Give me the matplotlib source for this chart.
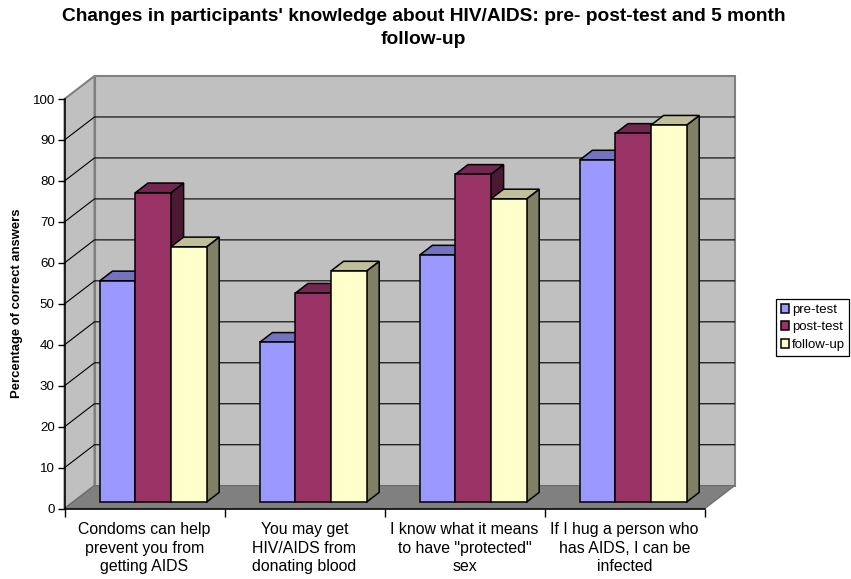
"""Excel-style 3D clustered columns: HIV/AIDS knowledge pre, post and follow-up."""

import matplotlib
matplotlib.use("Agg")
import matplotlib.pyplot as plt
import numpy as np
from matplotlib.patches import Polygon

plt.rcParams["font.family"] = ["Liberation Sans", "DejaVu Sans"]

TITLE = ("Changes in participants' knowledge about HIV/AIDS: pre- post-test and 5 month\n"
         "follow-up")
YLABEL = "Percentage of correct answers"

CATEGORIES = [
    "Condoms can help\nprevent you from\ngetting AIDS",
    "You may get\nHIV/AIDS from\ndonating blood",
    "I know what it means\nto have \"protected\"\nsex",
    "If I hug a person who\nhas AIDS, I can be\ninfected",
]
PRE_TEST = [54, 39, 60.3, 83.5]
POST_TEST = [75.5, 51, 80, 90]
FOLLOW_UP = [62.3, 56.4, 74, 92]
SERIES_NAMES = ["pre-test", "post-test", "follow-up"]
YTICKS = list(range(0, 101, 10))

# colour per series: front, top, side
COLOURS = [
    ("#9999FF", "#7373BF", "#4C4C80"),
    ("#993366", "#732650", "#4C1933"),
    ("#FFFFCC", "#BFBF99", "#808066"),
]

# depth of the floor in data units (30 px across, 23 px up)
DX = 30 / 160
DY = 23 / 4.097
BAR_W = 35.6 / 160
FRONT = 0.29   # fraction of the depth where the bars start
BACK = 0.71    # ... and where they end
GREY = "#808080"

W, H = 851, 579
fig = plt.figure(figsize=(W / 100, H / 100), dpi=100)
ax = fig.add_axes([64.5 / W, 1 - 508.7 / H, 640 / W, 409.7 / H])
ax.set_xlim(0, 4)
ax.set_ylim(0, 100)
ax.set_facecolor("none")

# walls and floor
ax.add_patch(Polygon([(DX, DY), (4 + DX, DY), (4 + DX, 100 + DY), (DX, 100 + DY)],
                     fc="#C0C0C0", ec=GREY, lw=1.5, clip_on=False, zorder=1))
ax.add_patch(Polygon([(0, 0), (DX, DY), (DX, 100 + DY), (0, 100)],
                     fc="#C0C0C0", ec=GREY, lw=1.5, clip_on=False, zorder=1))
for v in YTICKS[1:-1]:
    ax.plot([0, DX, 4 + DX], [v, v + DY, v + DY], color="black", lw=0.8,
            clip_on=False, zorder=2)
ax.add_patch(Polygon([(0, 0), (4, 0), (4 + DX, DY), (DX, DY)],
                     fc=GREY, ec="#707070", lw=1, clip_on=False, zorder=3))

# bars, left to right so each one covers the side of the one before
z = 4
legend_handles = []
for c in range(len(CATEGORIES)):
    for s, values in enumerate([PRE_TEST, POST_TEST, FOLLOW_UP]):
        v = values[c]
        front, top, side = COLOURS[s]
        group_w = BAR_W * 3
        x0 = c + (1 - group_w) / 2 + s * BAR_W + FRONT * DX
        y0 = FRONT * DY
        depth_x = (BACK - FRONT) * DX
        depth_y = (BACK - FRONT) * DY
        x1 = x0 + BAR_W
        ax.add_patch(Polygon([(x1, y0), (x1 + depth_x, y0 + depth_y),
                              (x1 + depth_x, y0 + v + depth_y), (x1, y0 + v)],
                             fc=side, ec="black", lw=1.1, clip_on=False, zorder=z))
        ax.add_patch(Polygon([(x0, y0 + v), (x1, y0 + v),
                              (x1 + depth_x, y0 + v + depth_y), (x0 + depth_x, y0 + v + depth_y)],
                             fc=top, ec="black", lw=1.1, clip_on=False, zorder=z))
        b = ax.bar(x0, v, width=BAR_W, bottom=y0, align="edge", color=front,
                   edgecolor="black", lw=1.1, clip_on=False, zorder=z + 1)
        if c == 0:
            legend_handles.append(b[0])
        z += 2

for name in ["top", "right"]:
    ax.spines[name].set_visible(False)
for name in ["left", "bottom"]:
    ax.spines[name].set_linewidth(1.1)
    ax.spines[name].set_zorder(3.5)

ax.set_yticks(YTICKS)
ax.tick_params(axis="y", labelsize=9.6, length=5, width=1, pad=2)
ax.set_xticks(range(5))
ax.set_xticklabels([])
ax.tick_params(axis="x", which="major", length=6, width=1)
ax.set_xticks(np.arange(4) + 0.5, CATEGORIES, minor=True)
ax.tick_params(axis="x", which="minor", length=0, labelsize=11.4, pad=9.7)
for label in ax.get_xticklabels(minor=True):
    label.set_linespacing(1.3)

fig.text(17 / W, 1 - 303 / H, YLABEL, rotation=90, ha="center", va="center",
         fontsize=9.4, fontweight="bold")
fig.text(423.5 / W, 1 - 28 / H, TITLE, ha="center", va="center", fontsize=13.8,
         fontweight="bold", linespacing=1.4)

leg = fig.legend(legend_handles, SERIES_NAMES, loc="upper left",
                 bbox_to_anchor=(776 / W, 1 - 299 / H), borderaxespad=0,
                 fontsize=9.5, frameon=True, fancybox=False, framealpha=1,
                 edgecolor="black", handlelength=0.6, handleheight=0.7,
                 handletextpad=0.25, borderpad=0.35, labelspacing=0.4)
leg.get_frame().set_linewidth(0.9)

fig.savefig("out.png", dpi=100)
